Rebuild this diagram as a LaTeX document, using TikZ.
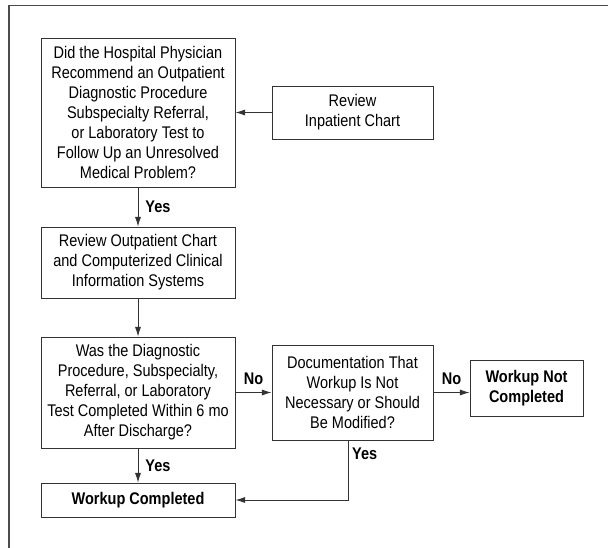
\documentclass[tikz,border=0pt]{standalone}
\usepackage{fontspec}
\setmainfont{Liberation Sans}[FakeStretch=0.86]
\usepackage{tikz}
\usetikzlibrary{arrows.meta, positioning}

\tikzset{
  stepbox/.style={draw=black!80, line width=0.6pt, align=center, inner sep=0pt,
    font=\fontsize{12}{14.2}\selectfont},
  flow/.style={draw=black!80, line width=0.6pt, -{Latex[length=2.4mm, width=1.5mm]}},
  answer/.style={font=\fontsize{12}{13}\selectfont\bfseries, inner sep=2pt}
}

\begin{document}
\begin{tikzpicture}[x=0.025cm, y=-0.025cm]
        \useasboundingbox (0,0) rectangle (608,548);
        % frame
        \draw[black!70, line width=1.1pt] (608,5.5) -- (9,5.5) -- (9,548);

        \node[stepbox, minimum width=4.85cm, minimum height=3.725cm] (ask) at (138, 112.5) {Did the Hospital Physician\\ Recommend an Outpatient\\ Diagnostic Procedure\\ Subspecialty Referral,\\ or Laboratory Test to\\ Follow Up an Unresolved\\ Medical Problem?};
        \node[stepbox, minimum width=4.025cm, minimum height=1.325cm] (inchart) at (352.5, 112.5) {Review\\ Inpatient Chart};
        \node[stepbox, minimum width=4.85cm, minimum height=1.775cm] (outchart) at (138, 262.5) {Review Outpatient Chart\\ and Computerized Clinical\\ Information Systems};
        \node[stepbox, minimum width=4.85cm, minimum height=2.775cm] (done6mo) at (138, 392.5) {Was the Diagnostic\\ Procedure, Subspecialty,\\ Referral, or Laboratory\\ Test Completed Within 6 mo\\ After Discharge?};
        \node[stepbox, minimum width=4.025cm, minimum height=2.375cm] (docu) at (352.5, 392.5) {Documentation That\\ Workup Is Not\\ Necessary or Should\\ Be Modified?};
        \node[stepbox, font=\fontsize{12}{14.2}\selectfont\bfseries, minimum width=2.825cm, minimum height=1.4cm] (notdone) at (526.5, 388) {Workup Not\\ Completed};
        \node[stepbox, font=\fontsize{12}{14.2}\selectfont\bfseries, minimum width=4.85cm, minimum height=0.85cm] (done) at (138, 500) {Workup Completed};

        \draw[flow] (inchart) -- (ask);
        \draw[flow] (ask) -- node[answer, right, xshift=3] {Yes} (outchart);
        \draw[flow] (outchart) -- (done6mo);
        \draw[flow] (done6mo) -- node[answer, above, yshift=3] {No} (docu);
        \draw[flow] (docu.east) -- node[answer, above, yshift=3] {No} (docu.east -| notdone.west);
        \draw[flow] (done6mo) -- node[answer, right, xshift=3] {Yes} (done);
        \draw[flow] ([xshift=-0.09cm]docu.south) |- node[answer, right, pos=0.11] {Yes} (done.east);
    \end{tikzpicture}
\end{document}
